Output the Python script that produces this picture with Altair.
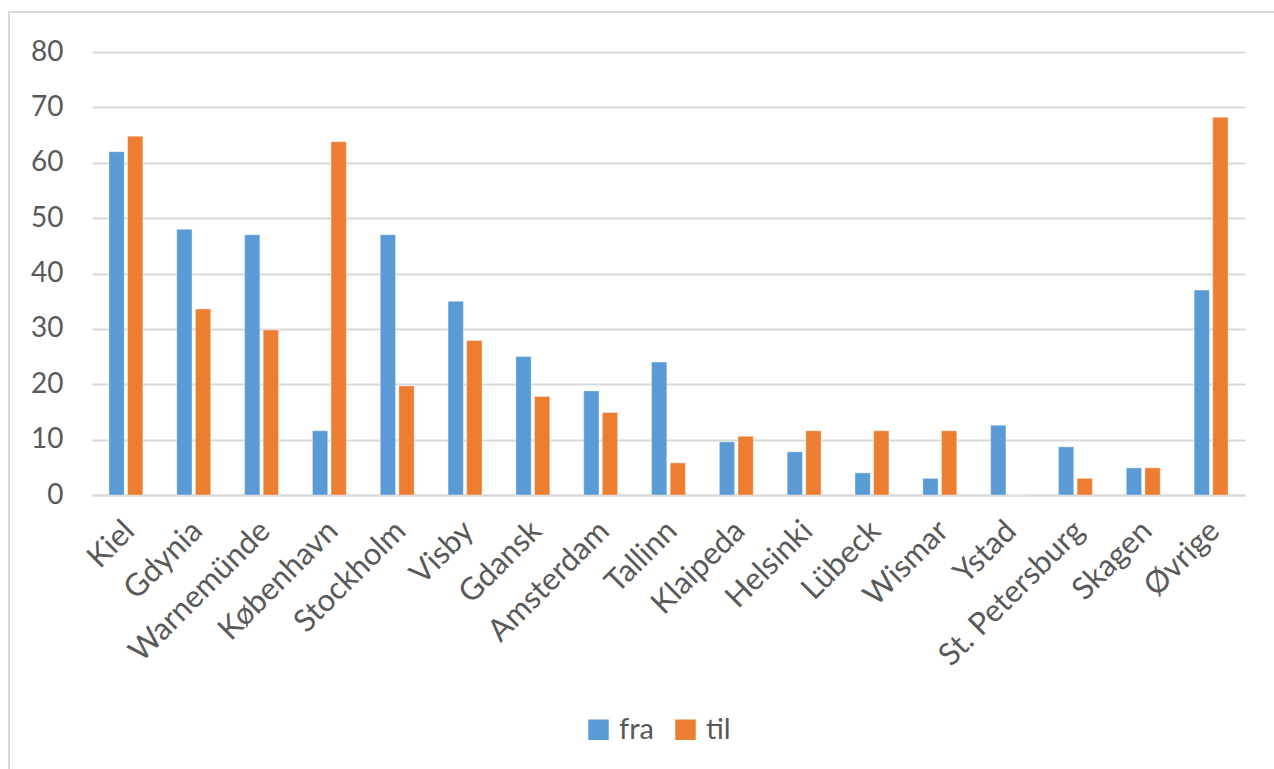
import altair as alt
import pandas as pd

# Ports and the two directions (fra = from, til = to)
ports = ["Kiel", "Gdynia", "Warnemünde", "København", "Stockholm", "Visby",
         "Gdansk", "Amsterdam", "Tallinn", "Klaipeda", "Helsinki", "Lübeck",
         "Wismar", "Ystad", "St. Petersburg", "Skagen", "Øvrige"]
fra = [62, 48, 47, 11.6, 47, 35, 25, 18.8, 24, 9.6, 7.8, 4, 3, 12.6, 8.7, 4.9, 37]
til = [64.8, 33.6, 29.8, 63.8, 19.7, 27.9, 17.8, 14.9, 5.8, 10.6, 11.6, 11.6, 11.6, 0, 3, 4.9, 68.2]
series = ["fra", "til"]
colors = ["#5B9BD5", "#ED7D31"]

rows = []
for i, p in enumerate(ports):
    rows.append({"havn": p, "retning": "fra", "verdi": fra[i]})
    rows.append({"havn": p, "retning": "til", "verdi": til[i]})
df = pd.DataFrame(rows)

FONT = "Lato"
TEXT = "#595959"
GRID = "#D9D9D9"

bars = alt.Chart(df).mark_bar(stroke="white", strokeWidth=0.6, strokeOpacity=0.6).encode(
    x=alt.X("havn:N", sort=ports, title=None,
            scale=alt.Scale(paddingInner=0.5, paddingOuter=0.25),
            axis=alt.Axis(labelAngle=-45, labelAlign="right", labelBaseline="middle",
                          labelFontSize=31, labelFont=FONT, labelColor=TEXT,
                          labelLimit=500,
                          labelPadding=31, labelOffset=4, ticks=False, domain=True,
                          domainColor=GRID, domainWidth=2, grid=False)),
    xOffset=alt.XOffset("retning:N", sort=series,
                        scale=alt.Scale(paddingInner=0.18, paddingOuter=0)),
    y=alt.Y("verdi:Q", title=None,
            scale=alt.Scale(domain=[0, 80], nice=False),
            axis=alt.Axis(values=list(range(0, 81, 10)), grid=True, gridColor=GRID,
                          gridWidth=2, domain=False, ticks=False,
                          labelFontSize=28, labelFont=FONT, labelColor=TEXT,
                          labelPadding=29)),
    color=alt.Color("retning:N", sort=series, title=None,
                    scale=alt.Scale(domain=series, range=colors),
                    legend=alt.Legend(orient="none", legendX=492, legendY=663,
                                      direction="horizontal", symbolType="square",
                                      symbolSize=420, symbolStrokeWidth=0,
                                      labelFontSize=29, labelFont=FONT,
                                      labelColor=TEXT, labelOffset=6,
                                      columnPadding=17, padding=0)),
)

# Outer chart frame (top and left edges visible)
frame = alt.Chart(pd.DataFrame({"k": [0]})).mark_rect(
    fill=None, stroke=GRID, strokeWidth=2
).encode(
    x=alt.value(-83), x2=alt.value(1200),
    y=alt.value(-40), y2=alt.value(740),
)

chart = alt.layer(frame, bars).properties(
    width=1153, height=443,
    autosize=alt.AutoSizeParams(type="none"),
    padding={"left": 92, "top": 52, "right": 29, "bottom": 274},
    background="white",
).configure_view(stroke=None)

chart.save("out.html", embed_options={"renderer": "svg", "actions": False})
